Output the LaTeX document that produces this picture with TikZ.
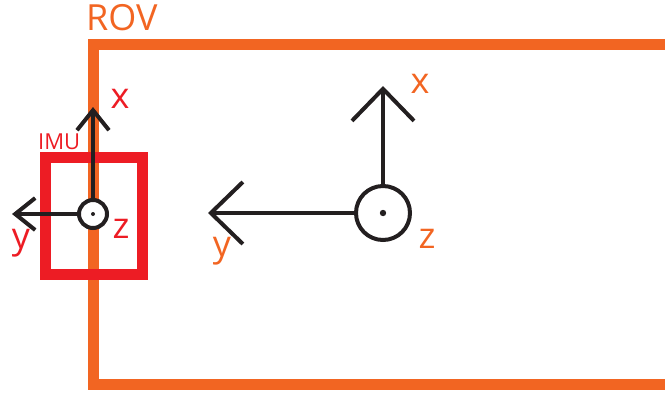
\documentclass[tikz,border=0pt]{standalone}
\usepackage{fontspec}
\setmainfont{Open Sans}
\usetikzlibrary{arrows.meta}
\definecolor{rovorange}{RGB}{242,101,34}
\definecolor{imured}{RGB}{237,28,36}
\definecolor{axblack}{RGB}{35,31,32}
\tikzset{
  rovframe/.style={draw=rovorange,line width=11pt,miter limit=10},
  imubox/.style={draw=imured,line width=11pt},
  axline/.style={draw=axblack,line width=4pt},
  smallarrow/.style={axline,-{Straight Barb[length=20pt,width=32pt,line width=4pt]}},
  bigarrow/.style={axline,-{Straight Barb[length=32pt,width=62pt,line width=4pt]}},
  smallcirc/.style={circle,draw=axblack,line width=4pt,minimum size=28pt,inner sep=0pt,fill=white},
  bigcirc/.style={circle,draw=axblack,line width=4pt,minimum size=54pt,inner sep=0pt,fill=white},
  lbl/.style={inner sep=0pt,font=\fontsize{36}{36}\selectfont},
}
\begin{document}
\begin{tikzpicture}[x=1pt,y=-1pt]
\useasboundingbox (0,0) rectangle (665,392);
% ROV frame
\draw[rovframe] (680,44) -- (93.5,44) -- (93.5,384.5) -- (680,384.5);
\node[lbl,text=rovorange,anchor=base west] (rov) at (86,30) {ROV};
% IMU box
\draw[imubox] (45.5,157.5) rectangle (142.5,274.5);
\node[inner sep=0pt,text=imured,font=\fontsize{22}{22}\selectfont,anchor=base west] (imu) at (38,149) {IMU};
% small axes
\node[smallcirc] (sc) at (93,214) {};
\fill[axblack] (sc.center) circle (2pt);
\coordinate (sx) at (93,107);
\coordinate (sy) at (12,214);
\draw[smallarrow] (sc.north) -- (sx);
\draw[smallarrow] (sc.west) -- (sy);
\node[lbl,text=imured] (sxl) at (120,99) {x};
\node[lbl,text=imured] (syl) at (21,243) {y};
\node[lbl,text=imured] (szl) at (121,229) {z};
% big axes
\node[bigcirc] (bc) at (383,213) {};
\fill[axblack] (bc.center) circle (3.2pt);
\coordinate (bx) at (383,86);
\coordinate (by) at (208,213);
\draw[bigarrow] (bc.north) -- (bx);
\draw[bigarrow] (bc.west) -- (by);
\node[lbl,text=rovorange] (bxl) at (420,84) {x};
\node[lbl,text=rovorange] (byl) at (222,251) {y};
\node[lbl,text=rovorange] (bzl) at (427,239) {z};
\end{tikzpicture}
\end{document}
